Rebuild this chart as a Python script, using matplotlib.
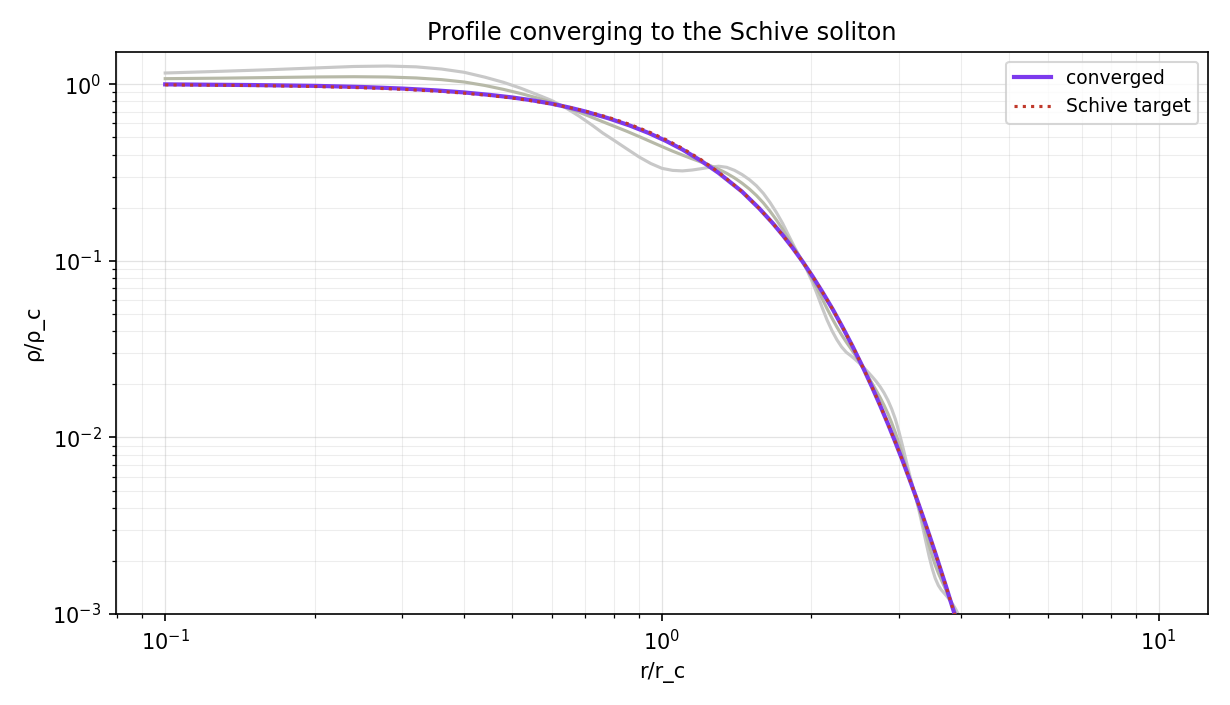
import matplotlib
matplotlib.use("Agg")
import matplotlib.pyplot as plt
import numpy as np

# radius grid (r / r_c) for target and converged profiles
r = [0.1, 0.15, 0.2, 0.25, 0.3, 0.35, 0.4, 0.45, 0.5, 0.55, 0.6, 0.65, 0.7,
     0.78, 0.86, 0.94, 1.02, 1.1, 1.2, 1.3, 1.45, 1.57, 1.67, 1.75, 1.83,
     1.92, 2.01, 2.1, 2.21, 2.31, 2.42, 2.55, 2.65, 2.75, 2.85, 2.95, 3.05,
     3.15, 3.25, 3.35, 3.46, 3.56, 3.73, 3.85, 3.98, 4.1]

# Schive target profile
target = [0.9928, 0.9838, 0.9713, 0.9556, 0.9368, 0.915, 0.8909, 0.864, 0.8353,
          0.8047, 0.7727, 0.7395, 0.7054, 0.6498, 0.5939, 0.5386, 0.485, 0.4336,
          0.3734, 0.318, 0.2465, 0.1981, 0.1638, 0.1399, 0.1191, 0.0989, 0.0817,
          0.0672, 0.0528, 0.0421, 0.0328, 0.0243, 0.0192, 0.01516, 0.01195,
          0.00941, 0.0074, 0.00581, 0.00457, 0.00359, 0.002753, 0.002164,
          0.001438, 0.001079, 0.000797, 0.000606]

# converged profile
converged = [0.999, 0.99, 0.98, 0.965, 0.946, 0.924, 0.899, 0.871, 0.842, 0.81,
             0.776, 0.739, 0.702, 0.642, 0.585, 0.530, 0.477, 0.427, 0.368, 0.315,
             0.2465, 0.1981, 0.1638, 0.1399, 0.1191, 0.0989, 0.0817, 0.0672,
             0.0528, 0.0421, 0.0328, 0.0243, 0.0192, 0.01516, 0.01195, 0.00941,
             0.0074, 0.00581, 0.00457, 0.00359, 0.002753, 0.002164, 0.001438,
             0.001079, 0.000797, 0.000606]

# finer radius grid for the earlier (grey) iterations
r_iter = [0.1, 0.13, 0.16, 0.2, 0.24, 0.28, 0.32, 0.36, 0.4, 0.44, 0.48, 0.52,
          0.56, 0.6, 0.64, 0.68, 0.72, 0.76, 0.8, 0.85, 0.9, 0.95, 1.0, 1.05,
          1.1, 1.15, 1.2, 1.25, 1.3, 1.35, 1.4, 1.45, 1.5, 1.55, 1.6, 1.65, 1.7,
          1.75, 1.8, 1.85, 1.9, 1.95, 2.0, 2.05, 2.1, 2.15, 2.2, 2.25, 2.3, 2.35,
          2.4, 2.45, 2.5, 2.55, 2.6, 2.65, 2.7, 2.75, 2.8, 2.85, 2.9, 2.95, 3.0,
          3.05, 3.1, 3.15, 3.2, 3.25, 3.3, 3.35, 3.4, 3.45, 3.5, 3.55, 3.6, 3.65,
          3.7, 3.75, 3.8, 3.85, 3.9, 3.95, 4.0, 4.05, 4.1]

# log10(rho/rho_c) of the earliest iteration (largest wiggles)
log_iter_early = [0.0638, 0.0737, 0.0819, 0.0924, 0.1008, 0.1033, 0.0988, 0.0863,
                  0.0678, 0.0403, 0.0109, -0.0225, -0.0578, -0.0920, -0.1332,
                  -0.1792, -0.2272, -0.2760, -0.3167, -0.3660, -0.4120, -0.4490,
                  -0.4760, -0.4875, -0.4905, -0.4855, -0.4778, -0.4699, -0.4640,
                  -0.4702, -0.4873, -0.5113, -0.5402, -0.5750, -0.6176, -0.6690,
                  -0.7262, -0.7881, -0.8577, -0.9240, -0.9829, -1.0405, -1.1085,
                  -1.1832, -1.2623, -1.3350, -1.3960, -1.4465, -1.4874, -1.5176,
                  -1.5373, -1.5585, -1.5810, -1.6050, -1.6300, -1.6560, -1.6830,
                  -1.7130, -1.7480, -1.7890, -1.8380, -1.8960, -1.9680, -2.0470,
                  -2.1290, -2.2080, -2.2800, -2.3500, -2.4260, -2.5080, -2.5920,
                  -2.6720, -2.7420, -2.7980, -2.8370, -2.8630, -2.8820, -2.9010,
                  -2.9220, -2.9450, -2.9710, -3.0010, -3.0350, -3.0740, -3.1170]

# log10(rho/rho_c) of a later iteration (smaller wiggles)
log_iter_mid = [0.0318, 0.0347, 0.0379, 0.0414, 0.0428, 0.0413, 0.0358, 0.0263,
                0.0128, -0.0067, -0.0291, -0.0525, -0.0768, -0.1020, -0.1292,
                -0.1572, -0.1852, -0.2120, -0.2367, -0.2663, -0.2961, -0.3252,
                -0.3526, -0.3782, -0.4009, -0.4218, -0.4408, -0.4599, -0.4810,
                -0.5042, -0.5303, -0.5603, -0.5932, -0.6300, -0.6716, -0.7180,
                -0.7682, -0.8211, -0.8767, -0.9320, -0.9849, -1.0365, -1.0925,
                -1.1522, -1.2123, -1.2710, -1.3250, -1.3745, -1.4194, -1.4596,
                -1.4963, -1.5343, -1.5735, -1.6150, -1.6548, -1.6948, -1.7340,
                -1.7744, -1.8180, -1.8647, -1.9166, -1.9726, -2.0337, -2.0989,
                -2.1631, -2.2265, -2.2859, -2.3452, -2.4106, -2.4790, -2.5464,
                -2.6108, -2.6701, -2.7234, -2.7677, -2.8059, -2.8420, -2.8790,
                -2.9180, -2.9569, -2.9967, -3.0384, -3.0819, -3.1283, -3.1767]

fig, ax = plt.subplots(figsize=(8.2, 4.7), dpi=150)
fig.subplots_adjust(left=0.0943, right=0.982, top=0.926, bottom=0.129)

ax.plot(r_iter, np.power(10.0, log_iter_early), color="#c8c8c8", lw=1.5, zorder=2)
ax.plot(r_iter, np.power(10.0, log_iter_mid), color="#b7b9a8", lw=1.5, zorder=2)
ax.plot(r, converged, color="#7c3aed", lw=2.0, label="converged", zorder=3)
ax.plot(r, target, color="#c0392b", lw=1.5, ls=":", label="Schive target", zorder=4)

ax.set_xscale("log")
ax.set_yscale("log")
ax.set_xlim(0.0796, 12.56)
ax.set_ylim(1e-3, 1.52)
ax.grid(True, which="major", color="#b0b0b0", lw=0.6, alpha=0.35)
ax.grid(True, which="minor", color="#b0b0b0", lw=0.5, alpha=0.22)
ax.set_xlabel("r/r_c")
ax.set_ylabel("ρ/ρ_c")
ax.set_title("Profile converging to the Schive soliton", fontsize=11.5)
ax.legend(loc="upper right", fontsize=9)

fig.savefig("out.png", dpi=150)
